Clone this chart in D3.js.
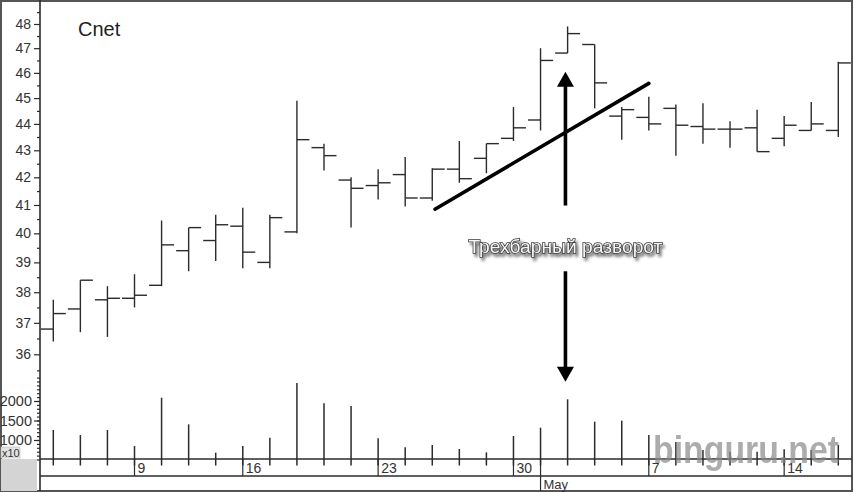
<!DOCTYPE html>
<html><head><meta charset="utf-8">
<script src="https://cdn.jsdelivr.net/npm/d3@7"></script>
<style>body{margin:0;background:#fff} svg{display:block}</style>
</head><body>
<svg id="c" width="854" height="493"></svg>
<script>
const title = "Cnet";
const dates = ["1998-04-06","1998-04-07","1998-04-08","1998-04-09","1998-04-13","1998-04-14","1998-04-15","1998-04-16","1998-04-17","1998-04-20","1998-04-21","1998-04-22","1998-04-23","1998-04-24","1998-04-27","1998-04-28","1998-04-29","1998-04-30","1998-05-01","1998-05-04","1998-05-05","1998-05-06","1998-05-07","1998-05-08","1998-05-11","1998-05-12","1998-05-13","1998-05-14","1998-05-15","1998-05-18"];
const open  = [36.8,37.45,37.75,37.8,38.23,39.4,39.75,40.25,39.0,40.05,43.1,41.9,41.7,42.1,41.25,42.3,42.7,43.45,44.15,46.8,47.15,44.3,44.25,44.6,43.9,43.8,43.85,43.45,43.75,43.75];
const high  = [37.75,38.4,38.2,38.6,40.45,40.2,40.65,40.9,40.65,44.9,43.25,42.0,42.3,42.75,42.33,43.35,43.25,44.65,47.0,47.9,47.15,44.65,45.05,44.75,44.8,44.1,44.55,44.3,44.85,46.45];
const low   = [36.4,36.7,36.55,37.5,38.2,38.7,39.05,38.8,38.8,40.0,42.25,40.2,41.2,40.95,41.15,41.8,42.15,43.35,43.75,46.8,44.6,43.4,43.75,42.8,43.25,43.1,42.95,43.15,43.75,43.5];
const close = [37.3,38.4,37.8,37.9,39.6,40.2,40.3,39.35,40.55,43.4,42.8,41.6,41.8,41.25,42.3,41.95,43.25,43.85,46.5,47.6,45.6,44.55,44.0,43.95,43.8,43.8,42.95,43.95,44.0,46.4];
const volume = [1256,1128,1256,846,2085,1402,675,846,1060,2460,1940,1872,1043,812,872,769,684,1103,1316,2043,1470,1496,1128,950,744,700,700,760,744,872];
const priceTicks = [36,37,38,39,40,41,42,43,44,45,46,47,48];
const priceMinor = [35.5,36.5,37.5,38.5,39.5,40.5,41.5,42.5,43.5,44.5,45.5,46.5,47.5,48.5];
const volTicks = [1000,1500,2000];
const volMinor = d3.range(500, 2601, 100);
const dayTicks = ["1998-04-09","1998-04-16","1998-04-23","1998-04-30","1998-05-07","1998-05-14"];
const monthTicks = ["1998-05-01"];
const volUnit = "x10";
const annotationText = "Трехбарный разворот";
const trend = [[14.1, 40.85],[22, 45.58]];
const upArrow = [[18.92, 40.98],[18.92, 46.04]];
const downArrow = [[18.92, 38.7],[18.92, 35.15]];
const labelPos = [18.92, 39.31];
const watermark = "binguru.net";

const svg = d3.select("#c");
const parse = d3.timeParse("%Y-%m-%d");
const fmtDay = d3.timeFormat("%-d"), fmtMon = d3.timeFormat("%b");
const x = d3.scalePoint().domain(dates).range([53.3, 838.3]);
const xf = i => x(dates[0]) + i * x.step();
const y = d3.scaleLog().domain([36, 48]).range([354.3, 24]);
const yv = d3.scaleLinear().domain([500, 2600]).range([459.5, 377.6]);
const L = 40, R = 852, axTop = 459, axMid = 476, axBot = 491;
const ink = "#2b2b2b";

const defs = svg.append("defs");
const f = defs.append("filter").attr("id","sh").attr("x","-10%").attr("y","-40%").attr("width","130%").attr("height","200%");
f.append("feDropShadow").attr("dx",2).attr("dy",3).attr("stdDeviation",1.6).attr("flood-color","#000").attr("flood-opacity",0.55);

// frame
svg.append("rect").attr("x",1).attr("y",1).attr("width",851).attr("height",490).attr("fill","#fff").attr("stroke","#555").attr("stroke-width",2);
svg.append("rect").attr("x",1).attr("y",axTop).attr("width",36).attr("height",axBot-axTop).attr("fill","#d4d4d4");

// price axis
const gp = svg.append("g").attr("transform",`translate(${L},0)`);
gp.call(d3.axisLeft(y).tickValues(priceTicks).tickSize(6).tickPadding(3).tickFormat(d3.format("d")));
gp.append("g").call(d3.axisLeft(y).tickValues(priceMinor).tickSize(3).tickFormat(""));
// volume axis
const gv = svg.append("g").attr("transform",`translate(${L},0)`);
gv.call(d3.axisLeft(yv).tickValues(volTicks).tickSize(6).tickPadding(2).tickFormat(d3.format("d")));
gv.append("g").call(d3.axisLeft(yv).tickValues(volMinor).tickSize(3).tickFormat(""));
svg.selectAll(".domain").remove();
svg.selectAll(".tick line").attr("stroke",ink).attr("stroke-width",1.2);
svg.selectAll(".tick text").attr("font-family","Liberation Sans, Arial, sans-serif").attr("font-size",14).attr("fill","#333");
gv.selectAll(".tick text").attr("font-size",14.5);

// x10 box
svg.append("rect").attr("x",1).attr("y",447).attr("width",19).attr("height",11).attr("fill","#e2e2e2").attr("stroke","#bbb").attr("stroke-width",0.6);
svg.append("text").attr("x",2).attr("y",456.5).text(volUnit).attr("font-family","Liberation Sans, Arial, sans-serif").attr("font-size",11).attr("fill","#333");

// axis lines
svg.append("line").attr("x1",L).attr("x2",L).attr("y1",0).attr("y2",axBot).attr("stroke",ink).attr("stroke-width",1.6);
svg.append("line").attr("x1",L).attr("x2",R).attr("y1",axTop).attr("y2",axTop).attr("stroke",ink).attr("stroke-width",1.4);
svg.append("line").attr("x1",L).attr("x2",R).attr("y1",axMid).attr("y2",axMid).attr("stroke",ink).attr("stroke-width",1.4);

// date ticks
const dt = svg.append("g");
dayTicks.forEach(d => {
  const xx = x(d);
  dt.append("line").attr("x1",xx).attr("x2",xx).attr("y1",axTop).attr("y2",axMid).attr("stroke",ink).attr("stroke-width",1.2);
  dt.append("text").attr("x",xx+3).attr("y",473).text(fmtDay(parse(d))).attr("font-family","Liberation Sans, Arial, sans-serif").attr("font-size",14).attr("fill","#333");
});
monthTicks.forEach(d => {
  const xx = x(d);
  dt.append("line").attr("x1",xx).attr("x2",xx).attr("y1",axTop).attr("y2",axBot).attr("stroke",ink).attr("stroke-width",1.2);
  dt.append("text").attr("x",xx+3).attr("y",489).text(fmtMon(parse(d))).attr("font-family","Liberation Sans, Arial, sans-serif").attr("font-size",13).attr("fill","#333");
});

// volume bars
svg.append("g").selectAll("line").data(volume).join("line")
  .attr("x1",(v,i)=>x(dates[i])).attr("x2",(v,i)=>x(dates[i]))
  .attr("y1",v=>yv(v)).attr("y2",yv(500)+6)
  .attr("stroke",ink).attr("stroke-width",1.5);

// OHLC bars
const tick = 12.5;
const gb = svg.append("g").attr("stroke",ink).attr("stroke-width",1.4);
dates.forEach((d,i) => {
  const xx = x(d);
  gb.append("line").attr("x1",xx).attr("x2",xx).attr("y1",y(high[i])).attr("y2",y(low[i]));
  gb.append("line").attr("x1",xx-tick).attr("x2",xx).attr("y1",y(open[i])).attr("y2",y(open[i]));
  gb.append("line").attr("x1",xx).attr("x2",xx+tick).attr("y1",y(close[i])).attr("y2",y(close[i]));
});

// title
svg.append("text").attr("x",78).attr("y",36).text(title).attr("font-family","Liberation Sans, Arial, sans-serif").attr("font-size",20).attr("fill","#222");

// trend line
svg.append("line").attr("x1",xf(trend[0][0])).attr("y1",y(trend[0][1])).attr("x2",xf(trend[1][0])).attr("y2",y(trend[1][1]))
  .attr("stroke","#000").attr("stroke-width",3.6).attr("stroke-linecap","round");

function arrow(a){
  const x0 = xf(a[0][0]), y0 = y(a[0][1]), y1 = y(a[1][1]);
  const dir = Math.sign(y1 - y0), head = 15, hw = 8.5;
  svg.append("line").attr("x1",x0).attr("x2",x0).attr("y1",y0).attr("y2",y1 - dir*head+dir*2).attr("stroke","#000").attr("stroke-width",3.6);
  svg.append("path").attr("d",`M${x0},${y1} L${x0-hw},${y1-dir*head} L${x0+hw},${y1-dir*head} Z`).attr("fill","#000");
}
arrow(upArrow); arrow(downArrow);

// label
svg.append("text").attr("x",xf(labelPos[0])).attr("y",y(labelPos[1])).attr("text-anchor","middle").text(annotationText)
  .attr("font-family","Liberation Sans, Arial, sans-serif").attr("font-size",18.5)
  .attr("textLength",194).attr("lengthAdjust","spacingAndGlyphs")
  .attr("fill","#f6f6f6").attr("stroke","#3a3a3a").attr("stroke-width",1.5).attr("paint-order","stroke")
  .attr("filter","url(#sh)");

// watermark
svg.append("text").attr("x",653).attr("y",463).text(watermark)
  .attr("font-family","Liberation Sans, Arial, sans-serif").attr("font-weight","bold").attr("font-size",38)
  .attr("textLength",186).attr("lengthAdjust","spacingAndGlyphs")
  .attr("fill","#8a8a8a").attr("opacity",0.7);
</script>
</body></html>
